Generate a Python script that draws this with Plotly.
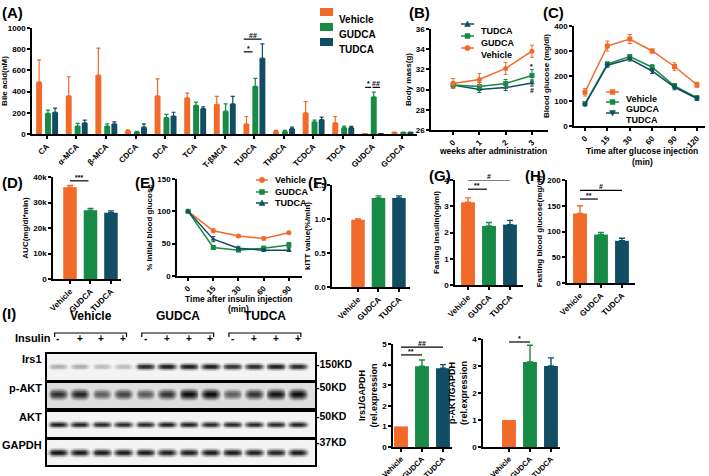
import numpy as np
import plotly.graph_objects as go

W, H = 709, 476
FONT = "Liberation Sans, Arial, sans-serif"
COL = {"Vehicle": "#F26A2A", "GUDCA": "#178A45", "TUDCA": "#124E63"}
GROUPS = ["Vehicle", "GUDCA", "TUDCA"]

# ---------------- data ----------------
# (A) bile acids
ba_cats = ["CA", "α-MCA", "β-MCA", "CDCA", "DCA", "TCA", "T-βMCA", "TUDCA",
           "THDCA", "TCDCA", "TDCA", "GUDCA", "GCDCA"]
ba_vehicle = [490, 360, 555, 30, 360, 340, 280, 95, 25, 200, 105, 3, 15]
ba_vehicle_err = [210, 180, 255, 10, 160, 45, 75, 70, 10, 105, 60, 0, 3]
ba_gudca = [195, 75, 75, 20, 155, 270, 215, 450, 25, 115, 60, 350, 15]
ba_gudca_err = [30, 25, 20, 5, 30, 30, 70, 75, 10, 15, 15, 45, 3]
ba_tudca = [205, 105, 95, 65, 170, 240, 285, 715, 50, 135, 60, 3, 15]
ba_tudca_err = [40, 25, 20, 30, 35, 15, 70, 135, 15, 25, 12, 0, 3]

# (B) body mass
weeks = ["0", "1", "2", "3"]
bm_vehicle = [30.6, 31.0, 32.1, 33.8]
bm_vehicle_err = [0.5, 0.6, 0.6, 0.6]
bm_gudca = [30.45, 30.3, 30.6, 31.4]
bm_gudca_err = [0.3, 0.4, 0.4, 0.6]
bm_tudca = [30.45, 30.0, 30.2, 30.65]
bm_tudca_err = [0.3, 0.3, 0.3, 0.3]

# (C) GTT
gtt_times = ["0", "15", "30", "60", "90", "120"]
gtt_vehicle = [135, 320, 348, 300, 238, 165]
gtt_vehicle_err = [15, 20, 18, 8, 15, 10]
gtt_gudca = [90, 248, 278, 235, 160, 113]
gtt_gudca_err = [5, 8, 8, 10, 10, 8]
gtt_tudca = [85, 243, 268, 220, 155, 110]
gtt_tudca_err = [5, 8, 8, 10, 10, 8]

# (D) AUC
auc = [36000, 27000, 26000]
auc_err = [700, 700, 700]

# (E) ITT
itt_times = ["0", "15", "30", "60", "90"]
itt_vehicle = [100, 70, 62, 58, 67]
itt_vehicle_err = [1, 3, 2, 2, 2]
itt_gudca = [100, 44, 40, 43, 48]
itt_gudca_err = [1, 3, 2, 3, 4]
itt_tudca = [100, 57, 43, 40, 40]
itt_tudca_err = [1, 4, 3, 2, 2]

# (F) kITT, (G) fasting insulin, (H) fasting glucose
kitt = [0.99, 1.31, 1.31]
kitt_err = [0.01, 0.03, 0.03]
fins = [3.15, 2.25, 2.3]
fins_err = [0.17, 0.13, 0.16]
fbg = [135, 94, 82]
fbg_err = [15, 4, 5]

# (I) quantification
irs1_rel = [1.0, 3.92, 3.82]
irs1_rel_err = [0, 0.3, 0.18]
pakt_rel = [1.0, 3.15, 3.0]
pakt_rel_err = [0, 0.62, 0.3]

# western blot band intensities (12 lanes)
insulin_signs = ["-", "+", "+", "+", "-", "+", "+", "+", "-", "+", "+", "+"]
blot_names = ["Irs1", "p-AKT", "AKT", "GAPDH"]
blot_kd = ["-150KD", "-50KD", "-50KD", "-37KD"]
blot_intensity = {
    "Irs1": [0.3, 0.3, 0.25, 0.25, 0.85, 0.9, 0.9, 0.9, 0.8, 0.85, 0.9, 0.85],
    "p-AKT": [0.8, 0.85, 0.6, 0.72, 0.62, 0.78, 0.95, 0.95, 0.6, 0.78, 0.92, 0.95],
    "AKT": [0.9, 0.88, 0.85, 0.85, 0.85, 0.9, 0.88, 0.85, 0.85, 0.85, 0.85, 0.88],
    "GAPDH": [0.95, 0.92, 0.92, 0.92, 0.92, 0.9, 0.9, 0.92, 0.92, 0.9, 0.88, 0.92],
}

# significance brackets: (x0, x1, y, text)
sig_A = [(6.65, 6.95, 775, "*"), (6.65, 7.25, 895, "##"), (10.75, 10.95, 440, "*"), (11.0, 11.25, 440, "##")]
sig_D = [(0, 0.9, 38500, "***"), (0, 2.0, 42000, "###")]
sig_F = [(0, 0.7, 1.57, "***"), (0, 2.0, 1.70, "###")]
sig_G = [(0, 0.9, 3.65, "**"), (0, 2.0, 4.0, "#")]
sig_H = [(0, 0.85, 163, "**"), (0, 2.0, 180, "#")]
sig_I1 = [(0, 1.0, 4.47, "**"), (0, 2.0, 4.85, "##")]
sig_I2 = [(0, 1.0, 3.89, "*"), (0, 2.0, 4.22, "#")]
# star / hash marks on line charts: (x category, y, text)
marks_B = [("3", 32.3, "*"), ("3", 29.9, "#")]
marks_C = [("30", 300, "*"), ("30", 242, "#"), ("60", 257, "*"), ("60", 196, "#"),
           ("90", 183, "*"), ("90", 130, "#"), ("120", 135, "*"), ("120", 85, "#")]
marks_E = [("15", 30, "*"), ("90", 68, "*"), ("90", 30, "#")]

# ---------------- figure ----------------
fig = go.Figure()
layout = dict(width=W, height=H, margin=dict(l=0, r=0, t=0, b=0, autoexpand=False),
              paper_bgcolor="white", plot_bgcolor="white", showlegend=False,
              barmode="overlay", font=dict(family=FONT, color="black"))
annotations = []
shapes = []


def dom(x0, x1, y0, y1):
    return [x0 / W, x1 / W], [1 - y1 / H, 1 - y0 / H]


def tf(size=8):
    return dict(size=size, family=FONT, color="black", weight="bold")


def paper_text(text, x, y, size=8.5, xanchor="center"):
    annotations.append(dict(xref="paper", yref="paper", x=x / W, y=1 - y / H, text=text,
                            showarrow=False, xanchor=xanchor, yanchor="middle",
                            font=tf(size)))


def make_axes(n, box, xrange, yrange, ytitle="", xtitle=None, dtick=None,
              tickvals=None, ticktext=None, xcat=None, tickangle=-45, xfont=8):
    xd, yd = dom(*box)
    sfx = "" if n == 1 else str(n)
    base = dict(showline=True, linecolor="black", linewidth=1.5, ticks="outside",
                ticklen=3, tickwidth=1.5, tickcolor="black", showgrid=False,
                zeroline=False, tickfont=tf(8))
    xa = dict(base, domain=xd, anchor="y" + sfx, range=xrange, tickangle=tickangle,
              tickfont=tf(xfont))
    if xcat is not None:
        xa.update(type="category", categoryorder="array", categoryarray=xcat)
    if tickvals is not None:
        xa.update(tickmode="array", tickvals=tickvals, ticktext=ticktext)
    ya = dict(base, domain=yd, anchor="x" + sfx, range=yrange,
              title=dict(text=ytitle, font=tf(8), standoff=3))
    if dtick is not None:
        ya.update(dtick=dtick)
    layout["xaxis" + sfx] = xa
    layout["yaxis" + sfx] = ya
    return "x" + sfx, "y" + sfx


def add_sig(xr, yr, items, fs=7):
    for x0, x1, y, t in items:
        shapes.append(dict(type="line", xref=xr, yref=yr, x0=x0, x1=x1, y0=y, y1=y,
                           line=dict(color="black", width=1.2)))
        annotations.append(dict(xref=xr, yref=yr, x=(x0 + x1) / 2, y=y, text=t,
                                showarrow=False, yanchor="bottom", yshift=-2,
                                font=tf(fs)))


def add_marks(xr, yr, items):
    for x, y, t in items:
        annotations.append(dict(xref=xr, yref=yr, x=x, y=y, text=t, showarrow=False,
                                font=tf(7)))


def panel_label(text, x, y, size=15):
    annotations.append(dict(xref="paper", yref="paper", x=x / W, y=1 - y / H,
                            text=text, showarrow=False, xanchor="left",
                            yanchor="middle", font=dict(size=size, family=FONT,
                                                        color="black", weight="bold")))


MARKER_PATH = {
    "square": "M -2.5 -2.5 L 2.5 -2.5 L 2.5 2.5 L -2.5 2.5 Z",
    "triangle-up": "M -3 -2.5 L 3 -2.5 L 0 3 Z",
    "triangle-down": "M -3 2.5 L 3 2.5 L 0 -3 Z",
}


def line_legend(x0, x1, ys, names, symbols, fs=9):
    for y, name, sym in zip(ys, names, symbols):
        yy = 1 - y / H
        xc = (x0 + x1) / 2 / W
        shapes.append(dict(type="line", xref="paper", yref="paper", x0=x0 / W, x1=x1 / W,
                           y0=yy, y1=yy, line=dict(color=COL[name], width=1.5)))
        common = dict(xref="paper", yref="paper", xsizemode="pixel", ysizemode="pixel",
                      xanchor=xc, yanchor=yy, fillcolor=COL[name],
                      line=dict(color=COL[name], width=0.5))
        if sym == "circle":
            shapes.append(dict(common, type="circle", x0=-2.7, x1=2.7, y0=-2.7, y1=2.7))
        else:
            shapes.append(dict(common, type="path", path=MARKER_PATH[sym]))
        annotations.append(dict(xref="paper", yref="paper", x=(x1 + 5) / W, y=yy, text=name,
                                showarrow=False, xanchor="left", font=tf(fs)))


def bar3(xr, yr, vals, errs):
    for i, g in enumerate(GROUPS):
        fig.add_trace(go.Bar(x=[i], y=[vals[i]], width=0.66, name=g,
                             marker=dict(color=COL[g], line=dict(width=0)),
                             error_y=dict(type="data", array=[errs[i]], arrayminus=[0],
                                          symmetric=False, color=COL[g], thickness=1.4,
                                          width=3, visible=errs[i] > 0),
                             xaxis=xr, yaxis=yr, showlegend=False))


# ---- (A)
xa, ya = make_axes(1, (32, 417, 28, 134), [-0.5, 12.5], [0, 1000], "Bile acid(nM)",
                   dtick=200, tickvals=list(range(13)), ticktext=ba_cats)
for name, vals, errs, off in [("Vehicle", ba_vehicle, ba_vehicle_err, -0.36),
                              ("GUDCA", ba_gudca, ba_gudca_err, -0.06),
                              ("TUDCA", ba_tudca, ba_tudca_err, 0.18)]:
    fig.add_trace(go.Bar(x=list(range(13)), y=vals, width=0.2, offset=off, name=name,
                         marker=dict(color=COL[name], line=dict(width=0)),
                         error_y=dict(type="data", array=errs, arrayminus=[0] * 13,
                                      symmetric=False, color=COL[name], thickness=1.2, width=2),
                         xaxis=xa, yaxis=ya, showlegend=False))
add_sig(xa, ya, sig_A)
for y, name in zip([12, 27, 42], GROUPS):
    shapes.append(dict(type="rect", xref="paper", yref="paper", x0=320 / W, x1=333 / W,
                       y0=1 - (y + 4) / H, y1=1 - (y - 4) / H,
                       fillcolor=COL[name], line=dict(width=0)))
    annotations.append(dict(xref="paper", yref="paper", x=337 / W, y=1 - y / H, text=name,
                            showarrow=False, xanchor="left", font=tf(10)))

# ---- (B)
xb, yb = make_axes(2, (431, 548, 29, 130), [-0.84, 3.61], [26, 36], "Body mass(g)",
                   dtick=2, xcat=weeks)
for name, vals, errs, sym in [("TUDCA", bm_tudca, bm_tudca_err, "triangle-up"),
                              ("GUDCA", bm_gudca, bm_gudca_err, "square"),
                              ("Vehicle", bm_vehicle, bm_vehicle_err, "circle")]:
    fig.add_trace(go.Scatter(x=weeks, y=vals, mode="lines+markers", name=name,
                             line=dict(color=COL[name], width=1.5),
                             marker=dict(symbol=sym, size=5, color=COL[name]),
                             error_y=dict(type="data", array=errs, color=COL[name],
                                          thickness=1, width=2),
                             xaxis=xb, yaxis=yb))
add_marks(xb, yb, marks_B)
line_legend(461, 474, [24, 36, 48], ["TUDCA", "GUDCA", "Vehicle"],
            ["triangle-up", "square", "circle"])
paper_text("weeks after administration", 493, 151)

# ---- (C)
xc, yc = make_axes(3, (574, 705, 26, 126), [-0.49, 5.36], [0, 400], "Blood glucose (mg/dl)",
                   dtick=100, xcat=gtt_times)
for name, vals, errs, sym in [("Vehicle", gtt_vehicle, gtt_vehicle_err, "square"),
                              ("GUDCA", gtt_gudca, gtt_gudca_err, "square"),
                              ("TUDCA", gtt_tudca, gtt_tudca_err, "triangle-down")]:
    fig.add_trace(go.Scatter(x=gtt_times, y=vals, mode="lines+markers", name=name,
                             line=dict(color=COL[name], width=1.5),
                             marker=dict(symbol=sym, size=5, color=COL[name]),
                             error_y=dict(type="data", array=errs, color=COL[name],
                                          thickness=1, width=2),
                             xaxis=xc, yaxis=yc))
add_marks(xc, yc, marks_C)
line_legend(606, 619, [92, 102, 113], GROUPS, ["square", "square", "triangle-down"])
paper_text("Time after glucose injection", 642, 151)
paper_text("(min)", 642, 162)

# ---- (D)
xd_, yd_ = make_axes(4, (53, 121, 177, 279), [-0.83, 2.49], [0, 40000], "AUC(mg/dl*min)",
                     dtick=10000, tickvals=[0, 1, 2], ticktext=GROUPS)
bar3(xd_, yd_, auc, auc_err)
add_sig(xd_, yd_, sig_D)

# ---- (E)
xe, ye = make_axes(5, (177, 302, 179, 276), [-0.44, 4.52], [0, 150], "% Initial blood glucose",
                   dtick=50, xcat=itt_times)
for name, vals, errs, sym in [("Vehicle", itt_vehicle, itt_vehicle_err, "circle"),
                              ("GUDCA", itt_gudca, itt_gudca_err, "square"),
                              ("TUDCA", itt_tudca, itt_tudca_err, "triangle-up")]:
    fig.add_trace(go.Scatter(x=itt_times, y=vals, mode="lines+markers", name=name,
                             line=dict(color=COL[name], width=1.5),
                             marker=dict(symbol=sym, size=5, color=COL[name]),
                             error_y=dict(type="data", array=errs, color=COL[name],
                                          thickness=1, width=2),
                             xaxis=xe, yaxis=ye))
add_marks(xe, ye, marks_E)
line_legend(256, 268, [180, 192, 203], GROUPS, ["circle", "square", "triangle-up"])
paper_text("Time after insulin injection", 239, 299)
paper_text("(min)", 239, 308.5)

# ---- (F)
xf, yf = make_axes(6, (332, 410, 185, 287), [-1.27, 2.54], [0, 1.5], "kITT value(%/min)",
                   dtick=0.5, tickvals=[0, 1, 2], ticktext=GROUPS)
layout["yaxis6"]["tickformat"] = ".1f"
bar3(xf, yf, kitt, kitt_err)
add_sig(xf, yf, sig_F)

# ---- (G)
xg, yg = make_axes(7, (455, 523, 180, 285), [-0.62, 2.62], [0, 4], "Fasting Insulin(ng/ml)",
                   dtick=1, tickvals=[0, 1, 2], ticktext=GROUPS)
bar3(xg, yg, fins, fins_err)
add_sig(xg, yg, sig_G)

# ---- (H)
xh, yh = make_axes(8, (567, 635, 180, 283), [-0.62, 2.62], [0, 200],
                   "Fasting blood glucose(mg/dl)", dtick=50, tickvals=[0, 1, 2], ticktext=GROUPS)
bar3(xh, yh, fbg, fbg_err)
add_sig(xh, yh, sig_H)

# ---- (I) quantification
xi1, yi1 = make_axes(9, (393, 452, 344, 447), [-0.38, 2.43], [0, 5],
                     "Irs1/GAPDH<br>(rel.expression", dtick=1, tickvals=[0, 1, 2],
                     ticktext=GROUPS, xfont=7.5)
layout["yaxis9"]["title"]["font"] = tf(9)
bar3(xi1, yi1, irs1_rel, irs1_rel_err)
add_sig(xi1, yi1, sig_I1)
xi2, yi2 = make_axes(10, (483, 560, 339, 447), [-1.24, 2.43], [0, 4],
                     "p-AKT/GAPDH<br>(rel.expression", dtick=1, tickvals=[0, 1, 2],
                     ticktext=GROUPS, xfont=7.5)
layout["yaxis10"]["title"]["font"] = tf(9)
bar3(xi2, yi2, pakt_rel, pakt_rel_err)
add_sig(xi2, yi2, sig_I2)

# ---- (I) blots
blot_boxes = [(354, 380), (383, 408), (412, 437), (440, 465)]
band_center = {"Irs1": 0.52, "p-AKT": 0.55, "AKT": 0.5, "GAPDH": 0.5}
band_width = {"Irs1": 0.11, "p-AKT": 0.2, "AKT": 0.11, "GAPDH": 0.13}
band_bg = {"Irs1": 0.04, "p-AKT": 0.12, "AKT": 0.04, "GAPDH": 0.04}
xs = np.linspace(-0.5, 11.8, 300)
ys = np.linspace(0, 1, 40)
for k, name in enumerate(blot_names):
    n = 11 + k
    y0, y1 = blot_boxes[k]
    xd, yd = dom(47, 315, y0, y1)
    sfx = str(n)
    layout["xaxis" + sfx] = dict(domain=xd, anchor="y" + sfx, range=[-0.5, 11.8],
                                 showline=True, mirror=True, linecolor="black", linewidth=2,
                                 showticklabels=False, ticks="", showgrid=False, zeroline=False)
    layout["yaxis" + sfx] = dict(domain=yd, anchor="x" + sfx, range=[0, 1],
                                 showline=True, mirror=True, linecolor="black", linewidth=2,
                                 showticklabels=False, ticks="", showgrid=False, zeroline=False)
    inten = blot_intensity[name]
    Z = np.full((len(ys), len(xs)), band_bg[name])
    vprof = np.exp(-((ys - band_center[name]) / band_width[name]) ** 2)
    for i, v in enumerate(inten):
        hprof = np.exp(-((xs - i) / 0.42) ** 4)
        Z = np.maximum(Z, v * np.outer(vprof, hprof))
    fig.add_trace(go.Heatmap(x=xs, y=ys, z=Z, zmin=0, zmax=1, zsmooth="best",
                             colorscale=[[0, "white"], [0.5, "#777"], [1, "black"]],
                             showscale=False, hoverinfo="skip",
                             xaxis="x" + sfx, yaxis="y" + sfx))
    annotations.append(dict(xref="paper", yref="paper", x=44 / W, y=1 - (y0 + y1) / 2 / H,
                            text=name, showarrow=False, xanchor="right",
                            font=tf(11)))
kd_y = [372, 395, 424, 450]
for t, yy in zip(blot_kd, kd_y):
    annotations.append(dict(xref="paper", yref="paper", x=314 / W, y=1 - yy / H, text=t,
                            showarrow=False, xanchor="left", font=tf(10.5)))
# insulin row
annotations.append(dict(xref="paper", yref="paper", x=53 / W, y=1 - 346 / H, text="Insulin",
                        showarrow=False, xanchor="right", font=tf(11)))
for i, s in enumerate(insulin_signs):
    annotations.append(dict(xref="x11", yref="paper", x=i, y=1 - 346 / H, text=s,
                            showarrow=False, font=tf(10)))
# group headers with brackets
for g, (l0, l1) in zip(GROUPS, [(0, 3), (4, 7), (8, 11)]):
    annotations.append(dict(xref="x11", yref="paper", x=(l0 + l1) / 2, y=1 - 325 / H, text=g,
                            showarrow=False, font=tf(12)))
    yb_, yt_ = 1 - 337 / H, 1 - 333 / H
    shapes.append(dict(type="path", xref="x11", yref="paper",
                       path=f"M {l0 - 0.15} {yb_} L {l0 - 0.15} {yt_} L {l1 + 0.15} {yt_} L {l1 + 0.15} {yb_}",
                       line=dict(color="black", width=1.2)))

# panel labels
for t, x, y in [("(A)", 0, 12), ("(B)", 407, 12), ("(C)", 541, 12), ("(D)", 0, 183),
                ("(E)", 133, 183), ("(F)", 306, 183), ("(G)", 427, 175), ("(H)", 523, 175),
                ("(I)", 0, 313)]:
    panel_label(t, x, y)

layout["annotations"] = annotations
layout["shapes"] = shapes
fig.update_layout(**layout)
fig.write_html("out.html", config={"displayModeBar": False},
               post_script="document.body.style.margin='0px';")
